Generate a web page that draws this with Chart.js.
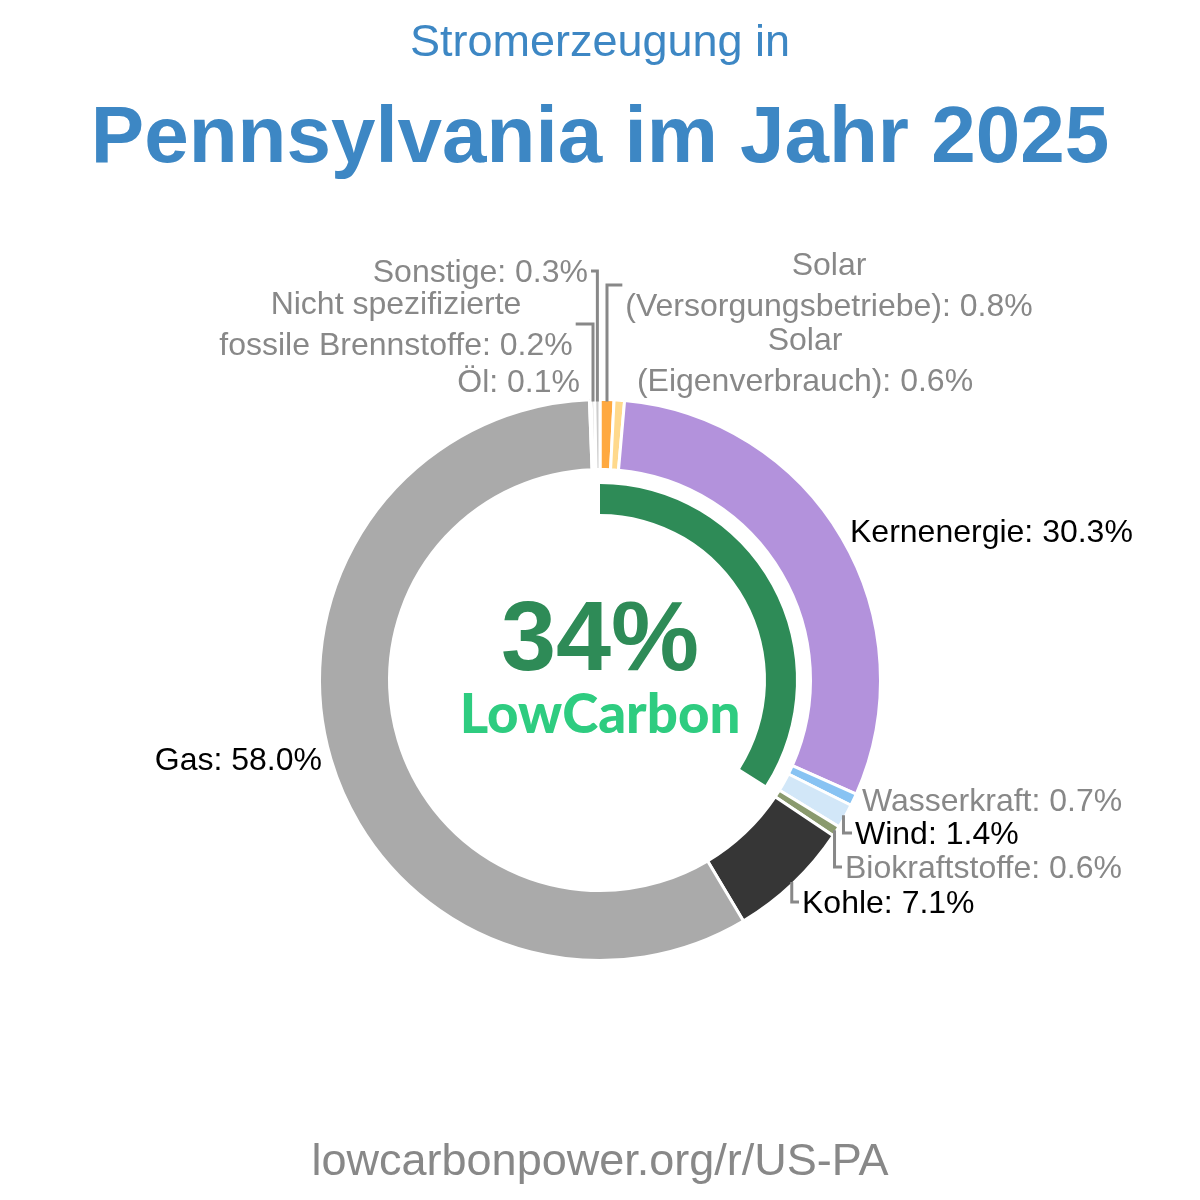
<!DOCTYPE html>
<html lang="de">
<head>
<meta charset="utf-8">
<title>Stromerzeugung in Pennsylvania im Jahr 2025</title>
<script src="https://cdn.jsdelivr.net/npm/chart.js@4.4.1/dist/chart.umd.min.js"></script>
<style>
  html, body { margin: 0; padding: 0; background: #fff; }
  #wrap { position: relative; width: 1200px; height: 1200px; font-family: 'Liberation Sans', Arial, sans-serif; }
  #chart { position: absolute; left: 0; top: 0; }
  .t { position: absolute; left: 0; width: 1200px; text-align: center; white-space: nowrap; line-height: 1; }
  #sub { top: 18px; font-size: 45px; color: #3d87c4; }
  #main { top: 95px; font-size: 80px; font-weight: bold; color: #3d87c4; }
  #foot { top: 1137px; font-size: 45px; color: #888; }
</style>
</head>
<body>
<div id="wrap">
  <canvas id="chart" width="1200" height="1200"></canvas>
  <div class="t" id="sub">Stromerzeugung in</div>
  <div class="t" id="main">Pennsylvania im Jahr 2025</div>
  <div class="t" id="foot">lowcarbonpower.org/r/US-PA</div>
</div>
<script>
// Anteile an der Stromerzeugung, im Uhrzeigersinn ab 12 Uhr
const sourceNames = ['Solar\n(Versorgungsbetriebe)', 'Solar\n(Eigenverbrauch)', 'Kernenergie', 'Wasserkraft', 'Wind',
                     'Biokraftstoffe', 'Kohle', 'Gas', 'Öl', 'Nicht spezifizierte\nfossile Brennstoffe', 'Sonstige'];
const shares = [0.8, 0.6, 30.3, 0.7, 1.4, 0.6, 7.1, 58.0, 0.1, 0.2, 0.3];
const sourceColors = ['#ffa940', '#ffd98c', '#b392dc', '#88c3f3', '#d2e7f8', '#8a9a6e', '#363636', '#aaaaaa', '#555555', '#999999', '#cccccc'];
const lowCarbonShare = 34;

// label placement (text anchor, middle of the block)
const labelLayout = [
    { x: 829, y: 285, align: 'center', leader: true },
    { x: 805, y: 360, align: 'center', leader: false },
    { x: 850, y: 531, align: 'left', leader: false },
    { x: 862, y: 800, align: 'left', leader: false },
    { x: 855, y: 833, align: 'left', leader: true },
    { x: 845, y: 867, align: 'left', leader: true },
    { x: 802, y: 902, align: 'left', leader: true },
    { x: 322, y: 759, align: 'right', leader: false },
    { x: 580, y: 381, align: 'right', leader: false },
    { x: 396, y: 324, align: 'center', leader: true },
    { x: 588, y: 271, align: 'right', leader: true }
];
const LINE_H = 41;
const TEXT_DY = 2;
const FONT = '"Liberation Sans", Arial, sans-serif';

const labelPlugin = {
    id: 'sliceLabels',
    afterDatasetsDraw(chart) {
        const ctx = chart.ctx;
        const arcs = chart.getDatasetMeta(0).data;
        ctx.save();
        ctx.font = '32px ' + FONT;
        ctx.textBaseline = 'middle';
        ctx.strokeStyle = '#888888';
        ctx.lineWidth = 3;
        ctx.lineJoin = 'miter';
        labelLayout.forEach((lay, i) => {
            const lines = (sourceNames[i] + ': ' + shares[i].toFixed(1) + '%').split('\n');
            const maxW = Math.max(...lines.map(l => ctx.measureText(l).width));
            ctx.fillStyle = shares[i] >= 1 ? '#000000' : '#888888';
            ctx.textAlign = lay.align;
            const y0 = lay.y - (lines.length - 1) * LINE_H / 2 + TEXT_DY;
            lines.forEach((l, k) => ctx.fillText(l, lay.x, y0 + k * LINE_H));

            if (lay.leader) {
                const a = arcs[i];
                const mid = (a.startAngle + a.endAngle) / 2;
                const r = a.outerRadius - 2;
                const px = a.x + Math.cos(mid) * r;
                const py = a.y + Math.sin(mid) * r;
                let ex;
                if (lay.align === 'left') ex = lay.x - 3;
                else if (lay.align === 'right') ex = lay.x + 3;
                else ex = px < lay.x ? lay.x - maxW / 2 - 3 : lay.x + maxW / 2 + 3;
                ctx.beginPath();
                ctx.moveTo(px, py);
                ctx.lineTo(px, lay.y);
                ctx.lineTo(ex, lay.y);
                ctx.stroke();
            }
        });

        // Mitte: Anteil CO2-arm
        const cx = arcs[0].x;
        const cy = arcs[0].y;
        ctx.textAlign = 'center';
        ctx.textBaseline = 'alphabetic';
        ctx.fillStyle = '#2e8b57';
        ctx.font = 'bold 99px ' + FONT;
        ctx.fillText(lowCarbonShare + '%', cx, cy - 10);

        ctx.fillStyle = '#2ecc80';
        ctx.font = '900 56px Lato, sans-serif';
        const w = ctx.measureText('LowCarbon').width;
        const size = 56 * 281 / w;
        ctx.font = '900 ' + size.toFixed(1) + 'px Lato, sans-serif';
        ctx.fillText('LowCarbon', cx, cy + 53);
        ctx.restore();
    }
};

const OUTER = 280.5;
const INNER = 166;

new Chart(document.getElementById('chart'), {
    type: 'doughnut',
    data: {
        labels: sourceNames,
        datasets: [
            {
                data: shares,
                backgroundColor: sourceColors,
                borderColor: '#ffffff',
                borderWidth: 3,
                weight: 70
            },
            {
                data: [1],
                backgroundColor: ['rgba(0,0,0,0)'],
                borderWidth: 0,
                weight: 14.5
            },
            {
                data: [lowCarbonShare, 100 - lowCarbonShare],
                backgroundColor: ['#2e8b57', 'rgba(0,0,0,0)'],
                borderWidth: 0,
                weight: 30
            }
        ]
    },
    options: {
        responsive: false,
        animation: false,
        events: [],
        radius: OUTER,
        cutout: (INNER / OUTER * 100) + '%',
        layout: { padding: { top: 160, bottom: 0, left: 0, right: 0 } },
        plugins: {
            legend: { display: false },
            tooltip: { enabled: false }
        }
    },
    plugins: [labelPlugin]
});
</script>
</body>
</html>
